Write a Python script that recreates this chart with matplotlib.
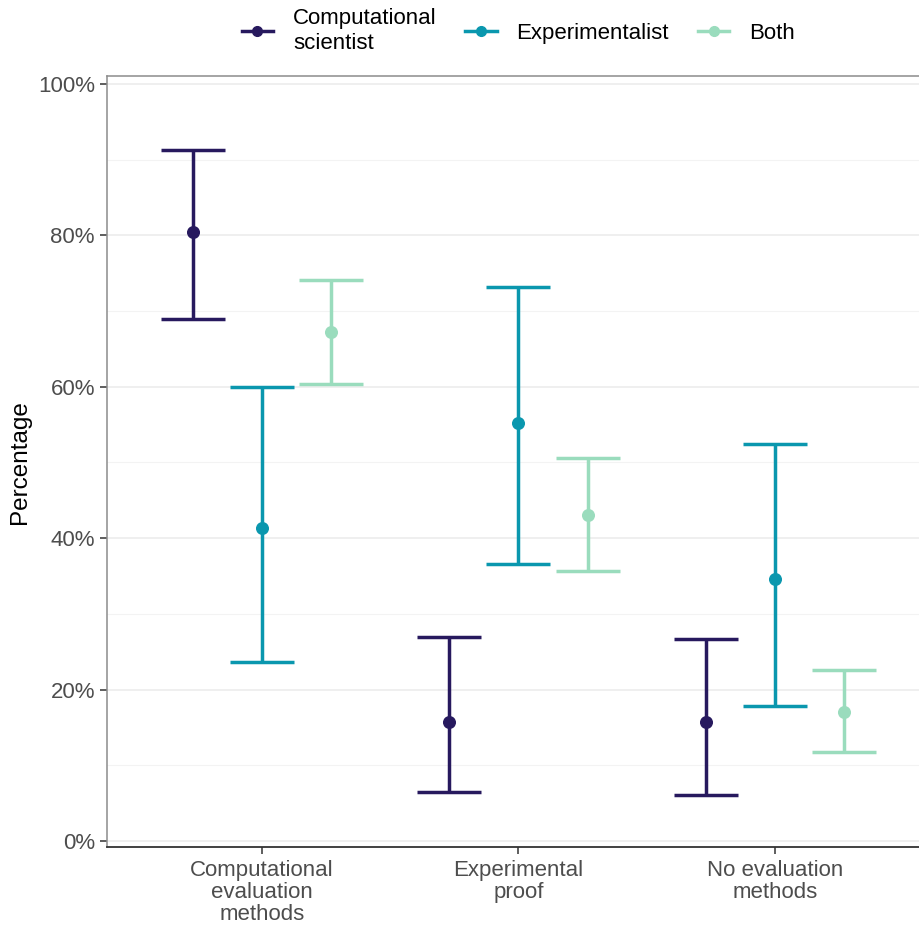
import matplotlib
matplotlib.use("Agg")
import matplotlib.pyplot as plt
from matplotlib.ticker import MultipleLocator, FuncFormatter
import numpy as np

plt.rcParams['font.family'] = ['Liberation Sans', 'DejaVu Sans']

categories = ["Computational\nevaluation\nmethods", "Experimental\nproof", "No evaluation\nmethods"]
groups = ["Computational\nscientist", "Experimentalist", "Both"]
colors = ["#27195e", "#0a97ae", "#9adcbd"]

# percentage estimates with lower / upper interval bounds, one list per group
estimate = {
    "Computational\nscientist": [80.4, 15.7, 15.7],
    "Experimentalist": [41.4, 55.2, 34.6],
    "Both": [67.2, 43.0, 17.0],
}
lower = {
    "Computational\nscientist": [69.0, 6.5, 6.1],
    "Experimentalist": [23.7, 36.6, 17.8],
    "Both": [60.4, 35.7, 11.8],
}
upper = {
    "Computational\nscientist": [91.3, 26.9, 26.7],
    "Experimentalist": [60.0, 73.2, 52.4],
    "Both": [74.1, 50.6, 22.6],
}

fig = plt.figure(figsize=(9.19, 9.26), dpi=100)
ax = fig.add_axes([106.7 / 919, 0.085, 822 / 919, 0.833])

x = np.arange(1, len(categories) + 1)
offsets = [-0.27, 0.0, 0.27]

for g, col, off in zip(groups, colors, offsets):
    est = np.array(estimate[g])
    lo = np.array(lower[g])
    hi = np.array(upper[g])
    ax.errorbar(x + off, est, yerr=[est - lo, hi - est], fmt='none',
                ecolor=col, elinewidth=2.5, capsize=23, capthick=2.5, zorder=3)
    ax.scatter(x + off, est, s=70, color=col, zorder=4)

ax.set_xlim(0.395, 3.6)
ax.set_ylim(-0.83, 101.06)
ax.set_xticks(x)
ax.set_xticklabels(categories, linespacing=1.08)
ax.yaxis.set_major_locator(MultipleLocator(20))
ax.yaxis.set_minor_locator(MultipleLocator(10))
ax.yaxis.set_major_formatter(FuncFormatter(lambda v, p: f"{v:.0f}%"))

ax.grid(axis='y', which='major', color='#ebebeb', linewidth=1.1, zorder=0)
ax.grid(axis='y', which='minor', color='#f3f3f3', linewidth=0.8, zorder=0)
ax.set_axisbelow(True)

ax.tick_params(axis='both', which='major', labelsize=16, labelcolor='#4d4d4d',
               color='#333333', length=5, width=1.1)
ax.tick_params(axis='y', which='minor', length=0)
ax.tick_params(axis='x', pad=4)

for side in ['left', 'top']:
    ax.spines[side].set_color('#8c8c8c')
    ax.spines[side].set_linewidth(1.1)
ax.spines['bottom'].set_color('#333333')
ax.spines['bottom'].set_linewidth(1.3)
ax.spines['right'].set_visible(False)

ax.set_ylabel("Percentage", fontsize=17.5, color='black', labelpad=5)

handles = [plt.Line2D([], [], color=c, marker='o', markersize=7, linewidth=2.5)
           for c in colors]
fig.legend(handles, groups, loc='center', bbox_to_anchor=(0.564, 1 - 31 / 926),
           ncol=3, frameon=False, handlelength=1.4,
           columnspacing=1.3, handletextpad=0.9, prop={'size': 16})

fig.savefig("out.png", dpi=100)
